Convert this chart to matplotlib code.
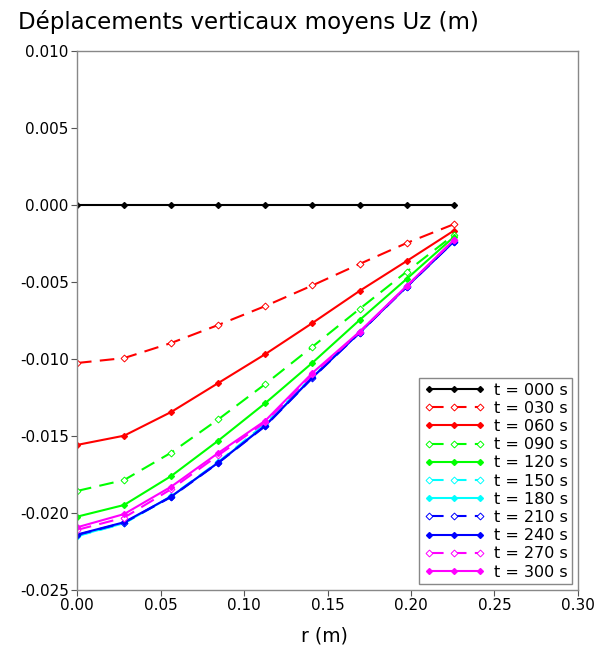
import matplotlib
matplotlib.use("Agg")
import matplotlib.pyplot as plt
import numpy as np

# radial positions (m)
r = [0.0, 0.0282, 0.0564, 0.0846, 0.1128, 0.1410, 0.1692, 0.1974, 0.2256]

labels = ["t = 000 s", "t = 030 s", "t = 060 s", "t = 090 s", "t = 120 s", "t = 150 s",
          "t = 180 s", "t = 210 s", "t = 240 s", "t = 270 s", "t = 300 s"]

uz_000 = [0.0, 0.0, 0.0, 0.0, 0.0, 0.0, 0.0, 0.0, 0.0]
uz_030 = [-0.01026, -0.00994, -0.00896, -0.00779, -0.00656, -0.00522, -0.00383, -0.00247, -0.00125]
uz_060 = [-0.01558, -0.01498, -0.01344, -0.01156, -0.00968, -0.00766, -0.00558, -0.00364, -0.00167]
uz_090 = [-0.01857, -0.01786, -0.01608, -0.01392, -0.01162, -0.00920, -0.00675, -0.00433, -0.00195]
uz_120 = [-0.02024, -0.01948, -0.01760, -0.01530, -0.01286, -0.01024, -0.00747, -0.00480, -0.00208]
uz_150 = [-0.02150, -0.02068, -0.01890, -0.01668, -0.01420, -0.01115, -0.00825, -0.00528, -0.00236]
uz_180 = [-0.02148, -0.02066, -0.01893, -0.01672, -0.01428, -0.01118, -0.00828, -0.00530, -0.00237]
uz_210 = [-0.02143, -0.02063, -0.01896, -0.01675, -0.01435, -0.01123, -0.00831, -0.00532, -0.00238]
uz_240 = [-0.02140, -0.02060, -0.01893, -0.01673, -0.01432, -0.01120, -0.00829, -0.00531, -0.00238]
uz_270 = [-0.02110, -0.02030, -0.01845, -0.01625, -0.01410, -0.01100, -0.00826, -0.00528, -0.00228]
uz_300 = [-0.02093, -0.02007, -0.01829, -0.01610, -0.01400, -0.01090, -0.00823, -0.00526, -0.00227]

series = [uz_000, uz_030, uz_060, uz_090, uz_120, uz_150, uz_180, uz_210, uz_240, uz_270, uz_300]
colors = ["#000000", "#ff0000", "#ff0000", "#00ff00", "#00ff00", "#00ffff",
          "#00ffff", "#0000ff", "#0000ff", "#ff00ff", "#ff00ff"]

fig = plt.figure(figsize=(5.98, 6.48), dpi=100)
ax = fig.add_axes([77 / 598, 1 - 590 / 648, 501 / 598, 539 / 648])

for i, (y, c, lab) in enumerate(zip(series, colors, labels)):
    if i % 2 == 1:
        ax.plot(r, y, color=c, lw=1.5, ls=(0, (7, 4)), marker="D", ms=3.5,
                mfc="white", mec=c, mew=0.7, label=lab)
    else:
        ax.plot(r, y, color=c, lw=1.5, ls="-", marker="D", ms=3,
                mfc=c, mec=c, label=lab)

ax.set_xlim(0, 0.30)
ax.set_ylim(-0.025, 0.010)
ax.set_xticks(np.arange(0, 0.301, 0.05))
ax.set_yticks(np.arange(-0.025, 0.0101, 0.005))
ax.xaxis.set_major_formatter(matplotlib.ticker.FormatStrFormatter("%.2f"))
ax.yaxis.set_major_formatter(matplotlib.ticker.FormatStrFormatter("%.3f"))
ax.tick_params(direction="out", length=4, pad=2, color="#555555", labelsize=11)
for s in ax.spines.values():
    s.set_color("#888888")
    s.set_linewidth(1.0)

leg = ax.legend(loc="lower right", fontsize=11.5, handlelength=3.8, numpoints=3,
                fancybox=False, edgecolor="#888888", framealpha=1,
                borderaxespad=0.35, labelspacing=0.2, handletextpad=0.55,
                borderpad=0.3)
leg.get_frame().set_linewidth(1.0)

fig.text(18 / 598, 1 - 22 / 648, "Déplacements verticaux moyens Uz (m)",
         fontsize=16.5, va="center", ha="left")
fig.text(324 / 598, 1 - 636 / 648, "r (m)", fontsize=13.5, va="center", ha="center")

fig.savefig("out.png", dpi=100)
